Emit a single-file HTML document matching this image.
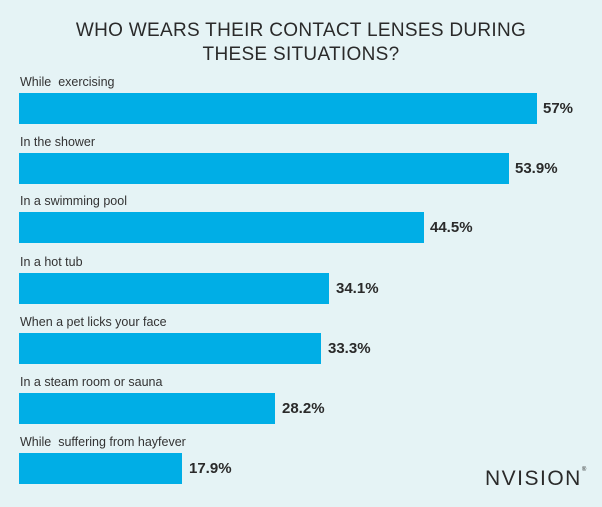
<!DOCTYPE html>
<html><head><style>
body{margin:0;width:602px;height:507px;background:#e5f3f5;position:relative;overflow:hidden;font-family:"Liberation Sans",sans-serif;}
.t{position:absolute;left:0;width:602px;text-align:center;font-size:19px;color:#2a2a2a;letter-spacing:0.3px;}
.l{position:absolute;left:20px;font-size:12.5px;color:#333;}
.b{position:absolute;left:19px;height:31px;background:#00aee6;}
.v{position:absolute;font-size:15px;font-weight:bold;color:#2a2a2a;}
</style></head><body>
<div class="t" style="top:20px">WHO WEARS THEIR CONTACT LENSES DURING</div>
<div class="t" style="top:44px">THESE SITUATIONS?</div>

<div class="l" style="top:75px">While&nbsp; exercising</div>
<div class="b" style="top:93px;width:518px"></div>
<div class="v" style="top:100px;left:543px">57%</div>

<div class="l" style="top:135px">In the shower</div>
<div class="b" style="top:153px;width:490px"></div>
<div class="v" style="top:160px;left:515px">53.9%</div>

<div class="l" style="top:194px">In a swimming pool</div>
<div class="b" style="top:212px;width:405px"></div>
<div class="v" style="top:219px;left:430px">44.5%</div>

<div class="l" style="top:255px">In a hot tub</div>
<div class="b" style="top:273px;width:310px"></div>
<div class="v" style="top:280px;left:336px">34.1%</div>

<div class="l" style="top:315px">When a pet licks your face</div>
<div class="b" style="top:333px;width:302px"></div>
<div class="v" style="top:340px;left:328px">33.3%</div>

<div class="l" style="top:375px">In a steam room or sauna</div>
<div class="b" style="top:393px;width:256px"></div>
<div class="v" style="top:400px;left:282px">28.2%</div>

<div class="l" style="top:435px">While&nbsp; suffering from hayfever</div>
<div class="b" style="top:453px;width:163px"></div>
<div class="v" style="top:460px;left:189px">17.9%</div>

<div style="position:absolute;left:485px;top:467px;font-size:21px;color:#2a2a2a;letter-spacing:1.5px;">NVISION<span style="font-size:6px;vertical-align:top">®</span></div>
</body></html>
